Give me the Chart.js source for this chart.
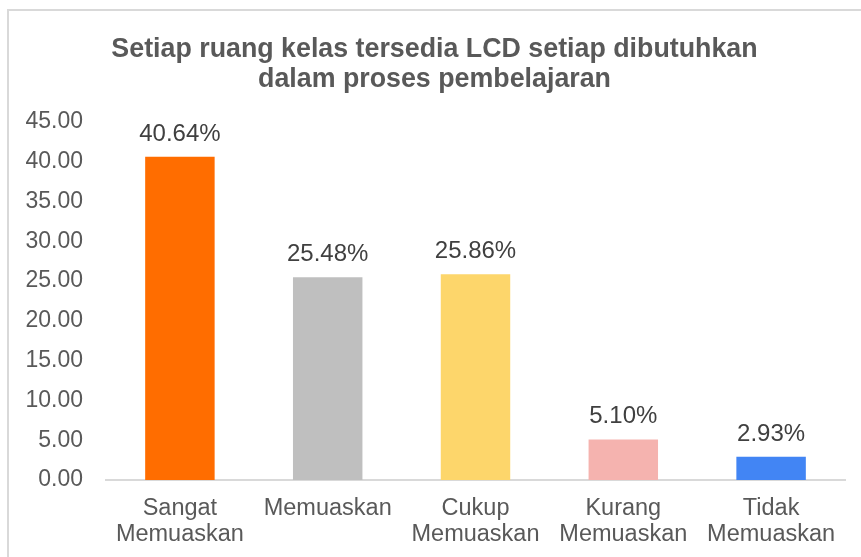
<!DOCTYPE html>
<html>
<head>
<meta charset="utf-8">
<script src="https://cdn.jsdelivr.net/npm/chart.js@4"></script>
<style>
  body { margin: 0; background: #fff; }
  #frame { position: absolute; left: 7px; top: 9px; width: 900px; height: 600px; border: 2px solid #d9d9d9; }
  #barChart { position: absolute; left: 0; top: 0; }
</style>
</head>
<body>
<div id="frame"></div>
<canvas id="barChart" width="861" height="557"></canvas>
<script>
/* data */
const categories = [["Sangat", "Memuaskan"], "Memuaskan", ["Cukup", "Memuaskan"], ["Kurang", "Memuaskan"], ["Tidak", "Memuaskan"]];
const percentValues = [40.64, 25.48, 25.86, 5.10, 2.93];
const barColors = ["#ff6d00", "#bfbfbf", "#fdd66b", "#f5b3af", "#4285f4"];
const yTicks = [0, 5, 10, 15, 20, 25, 30, 35, 40, 45];

const FONT = '"Liberation Sans", Arial, sans-serif';

// draws the "40.64%" style labels above each bar
const valueLabels = {
  id: 'valueLabels',
  afterDatasetsDraw(chart) {
    const ctx = chart.ctx;
    const meta = chart.getDatasetMeta(0);
    ctx.save();
    ctx.font = '24px ' + FONT;
    ctx.fillStyle = '#404040';
    ctx.textAlign = 'center';
    ctx.textBaseline = 'alphabetic';
    meta.data.forEach((bar, i) => {
      ctx.fillText(percentValues[i].toFixed(2) + '%', bar.x, bar.y - 16);
    });
    ctx.restore();
  }
};

const ctx = document.getElementById('barChart');

new Chart(ctx, {
  type: 'bar',
  data: {
    labels: categories,
    datasets: [{
      data: percentValues,
      backgroundColor: barColors,
      categoryPercentage: 1,
      barPercentage: 0.47
    }]
  },
  options: {
    responsive: false,
    animation: false,
    devicePixelRatio: 1,
    layout: { padding: { left: 24, right: 16, top: 0, bottom: 0 } },
    plugins: {
      legend: { display: false },
      tooltip: { enabled: false },
      title: {
        display: true,
        text: ['Setiap ruang kelas tersedia LCD setiap dibutuhkan', 'dalam proses pembelajaran'],
        color: '#595959',
        font: { family: FONT, size: 26.8, weight: 'bold', lineHeight: 1.12 },
        padding: { top: 35, bottom: 27 }
      }
    },
    scales: {
      x: {
        afterFit(axis) { axis.height = 77; },
        grid: { display: false, drawTicks: false },
        border: { display: true, color: '#d9d9d9', width: 2 },
        ticks: {
          color: '#595959',
          padding: 15,
          maxRotation: 0,
          autoSkip: false,
          font: { family: FONT, size: 23.5, lineHeight: 1.13 }
        }
      },
      y: {
        min: 0,
        max: 45,
        afterBuildTicks(axis) {
          axis.ticks = yTicks.map(v => ({ value: v }));
        },
        afterFit(axis) { axis.width = 82; },
        grid: { display: false, drawTicks: false },
        border: { display: false },
        ticks: {
          color: '#595959',
          padding: 23,
          font: { family: FONT, size: 23 },
          callback: v => Number(v).toFixed(2)
        }
      }
    }
  },
  plugins: [valueLabels]
});
</script>
</body>
</html>
